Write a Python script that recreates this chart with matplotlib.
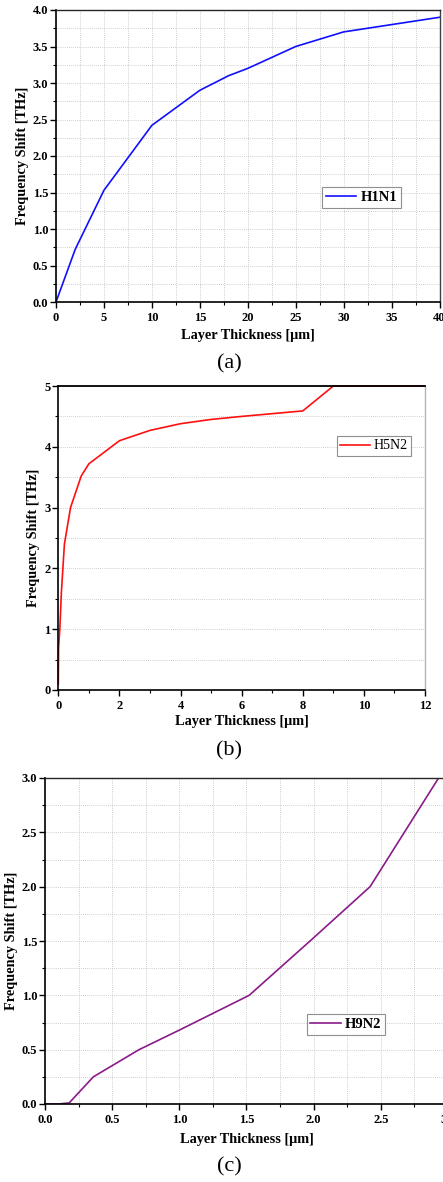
import numpy as np
import matplotlib
matplotlib.use("Agg")
import matplotlib.pyplot as plt
from matplotlib.ticker import MultipleLocator

plt.rcParams['font.family'] = ['Liberation Serif', 'DejaVu Serif']

# (a) H1N1
x_h1n1 = [0, 2, 5, 10, 15, 18, 20, 25, 30, 35, 40]
y_h1n1 = [0.0, 0.72, 1.53, 2.42, 2.9, 3.1, 3.2, 3.5, 3.7, 3.8, 3.9]

# (b) H5N2
x_h5n2 = [0, 0.01, 0.05, 0.1, 0.2, 0.4, 0.75, 1, 2, 3, 4, 5, 6, 8, 9, 12]
y_h5n2 = [0.1, 0.7, 1.0, 1.6, 2.4, 3.0, 3.52, 3.72, 4.1, 4.27, 4.38, 4.45, 4.5, 4.59, 5.0, 5.0]

# (c) H9N2
x_h9n2 = [0, 0.1, 0.18, 0.36, 0.7, 1.0, 1.52, 2.0, 2.42, 2.93]
y_h9n2 = [0.0, 0.0, 0.01, 0.25, 0.5, 0.68, 1.0, 1.53, 2.0, 3.0]

W, H = 443, 1182
fig = plt.figure(figsize=(W / 100, H / 100), dpi=100)


def box(left, top, right, bottom):
    return [left / W, 1 - bottom / H, (right - left) / W, (bottom - top) / H]


label_font = dict(fontsize=10.3, fontweight='bold')


def style(ax, xmaj, xmin, ymaj, ymin, vgrid=True, right_color='0.25', xpad=2):
    ax.xaxis.set_major_locator(MultipleLocator(xmaj))
    ax.xaxis.set_minor_locator(MultipleLocator(xmin))
    ax.yaxis.set_major_locator(MultipleLocator(ymaj))
    ax.yaxis.set_minor_locator(MultipleLocator(ymin))
    ax.tick_params(which='major', direction='out', length=4, width=1.0, pad=1.5)
    ax.tick_params(which='minor', direction='out', length=2.2, width=0.8)
    ax.tick_params(axis='x', which='major', pad=3)
    for lab in ax.get_xticklabels() + ax.get_yticklabels():
        lab.set_fontsize(9)
        lab.set_fontweight('bold')
    ax.spines['left'].set_linewidth(1.2)
    ax.spines['bottom'].set_linewidth(1.2)
    ax.spines['top'].set_linewidth(1.0)
    ax.spines['right'].set_linewidth(1.0)
    ax.spines['right'].set_color(right_color)
    ax.spines['top'].set_color('0.15')
    grid_kw = dict(color='0.75', linestyle=(0, (1, 1.5)), linewidth=0.6)
    ax.grid(True, which='both', axis='y', **grid_kw)
    if vgrid:
        ax.grid(True, which='both', axis='x', **grid_kw)
    ax.set_axisbelow(True)
    ax.set_xlabel('Layer Thickness [μm]', labelpad=xpad, **label_font)
    ax.set_ylabel('Frequency Shift [THz]', labelpad=3, **label_font)


def add_legend(ax, x0, y0, bold, size=10.5):
    leg = ax.legend(loc='lower left', bbox_to_anchor=(x0, y0), borderaxespad=0,
                    frameon=True, fancybox=False, handlelength=2.1,
                    handletextpad=0.3, borderpad=0.25,
                    prop=dict(family='Liberation Serif', size=size,
                              weight='bold' if bold else 'normal'))
    leg.get_frame().set_edgecolor('0.45')
    leg.get_frame().set_linewidth(0.8)


# panel (a)
ax1 = fig.add_axes(box(56, 10, 439.5, 302))
ax1.plot(x_h1n1, y_h1n1, color='#1010ff', lw=1.2, label='H1N1')
ax1.set_xlim(0, 40)
ax1.set_ylim(0, 4.0)
ax1.set_xticks(np.arange(0, 41, 5))
ax1.set_yticks(np.arange(0, 4.01, 0.5))
ax1.set_yticklabels([f'{v:.1f}' for v in np.arange(0, 4.01, 0.5)])
style(ax1, 5, 2.5, 0.5, 0.25, xpad=4)
add_legend(ax1, 0.694, 0.322, True)
fig.text(229 / W, 1 - 364 / H, '(a)', ha='center', va='center', fontsize=16)

# panel (b)
ax2 = fig.add_axes(box(58.3, 386, 425, 690))
ax2.plot(x_h5n2, y_h5n2, color='#ff1010', lw=1.2, label='H5N2', clip_on=False)
ax2.set_xlim(0, 12)
ax2.set_ylim(0, 5)
style(ax2, 2, 1, 1, 0.5, vgrid=False, right_color='0.7')
ax2.spines['top'].set_color('black')
ax2.spines['top'].set_linewidth(1.3)
add_legend(ax2, 0.760, 0.770, False, size=10)
fig.text(229 / W, 1 - 751 / H, '(b)', ha='center', va='center', fontsize=16)

# panel (c)
ax3 = fig.add_axes(box(45, 778, 448, 1104))
ax3.plot(x_h9n2, y_h9n2, color='#8b1a8b', lw=1.2, label='H9N2')
ax3.set_xlim(0, 3.0)
ax3.set_ylim(0, 3.0)
ax3.set_xticks(np.arange(0, 3.01, 0.5))
ax3.set_xticklabels([f'{v:.1f}' for v in np.arange(0, 3.01, 0.5)])
ax3.set_yticks(np.arange(0, 3.01, 0.5))
ax3.set_yticklabels([f'{v:.1f}' for v in np.arange(0, 3.01, 0.5)])
style(ax3, 0.5, 0.25, 0.5, 0.25, xpad=5)
add_legend(ax3, 0.649, 0.212, True)
fig.text(229 / W, 1 - 1167 / H, '(c)', ha='center', va='center', fontsize=16)

fig.savefig('out.png', dpi=100)
